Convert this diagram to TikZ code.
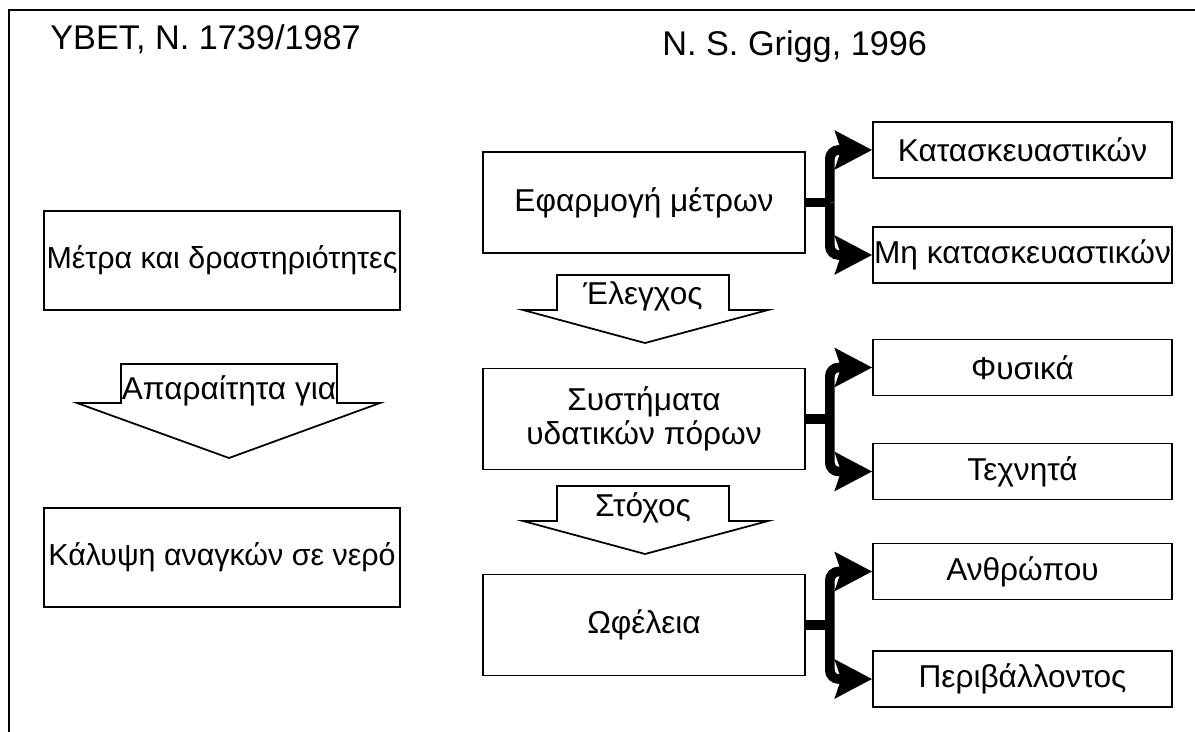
\documentclass[tikz,border=0pt]{standalone}
\usepackage{fontspec}
\setmainfont{Liberation Sans}
\usetikzlibrary{arrows.meta}

\tikzset{
  boite/.style={draw, line width=1pt, inner sep=0pt, align=center, font=\fontsize{18}{19.5}\selectfont},
  boiteG/.style={boite, minimum width=7.12cm, minimum height=1.98cm, font=\fontsize{17.3}{19.5}\selectfont},
  boiteD/.style={boite, minimum width=6.44cm, minimum height=2.02cm},
  petite/.style={boite, minimum width=5.98cm, minimum height=1.12cm},
  fleche/.style={draw, line width=1pt, fill=white},
  etiq/.style={anchor=base, inner sep=0pt, font=\fontsize{18}{20}\selectfont},
  titre/.style={anchor=base west, inner sep=0pt, font=\fontsize{19.5}{22}\selectfont},
  tige/.style={line width=5.5pt},
  branche/.style={line width=5.5pt, rounded corners=5pt, -{Stealth[length=0.74cm, width=0.76cm, inset=0.12cm]}},
}

\begin{document}
\begin{tikzpicture}[x=0.02cm, y=-0.02cm]
    % cadre : 1195 x 732 px
    \useasboundingbox (0,0) rectangle (1195,732);
    \draw[line width=1.2pt] (9,732) -- (9,10) -- (1195,10);

    \node[titre] (ybet) at (50,50) {YBET, N. 1739/1987};
    \node[titre] (grigg) at (662,56) {N. S. Grigg, 1996};

    % colonne de gauche
    \node[boiteG] (metra) at (222,260.5) {Μέτρα και δραστηριότητες};
    \draw[fleche] (121,364) -- (337,364) -- (337,403) -- (380,403) -- (229,458) -- (77,403) -- (121,403) -- cycle;
    \node[etiq] (apar) at (229,400) {Απαραίτητα για};
    \node[boiteG] (kalypsi) at (222,557.5) {Κάλυψη αναγκών σε νερό};

    % colonne de droite
    \node[boiteD] (efarm) at (644,202.5) {Εφαρμογή μέτρων};
    \draw[fleche] (557,275) -- (729,275) -- (729,310) -- (768,310) -- (645,343) -- (523,310) -- (557,310) -- cycle;
    \node[etiq] (elegxos) at (643,305) {Έλεγχος};
    \node[boiteD] (systim) at (644,419) {Συστήματα\\υδατικών πόρων};
    \draw[fleche] (557,486) -- (729,486) -- (729,521) -- (768,521) -- (645,554) -- (523,521) -- (557,521) -- cycle;
    \node[etiq] (stoxos) at (643,516) {Στόχος};
    \node[boiteD] (ofel) at (644,625) {Ωφέλεια};

    \node[petite] (kat) at (1022.5,150) {Κατασκευαστικών};
    \node[petite] (mikat) at (1022.5,255) {Μη κατασκευαστικών};
    \node[petite] (fys) at (1022.5,367.5) {Φυσικά};
    \node[petite] (texn) at (1022.5,471.5) {Τεχνητά};
    \node[petite] (anthr) at (1022.5,571.5) {Ανθρώπου};
    \node[petite] (periv) at (1022.5,679) {Περιβάλλοντος};

    % branches
    \draw[tige] (efarm.east) -- ++(24,0) coordinate (j1);
    \draw[branche] (j1) |- (kat.west);
    \draw[branche] (j1) |- (mikat.west);

    \draw[tige] (systim.east) -- ++(24,0) coordinate (j2);
    \draw[branche] (j2) |- (fys.west);
    \draw[branche] (j2) |- (texn.west);

    \draw[tige] (ofel.east) -- ++(24,0) coordinate (j3);
    \draw[branche] (j3) |- (anthr.west);
    \draw[branche] (j3) |- (periv.west);
\end{tikzpicture}
\end{document}
